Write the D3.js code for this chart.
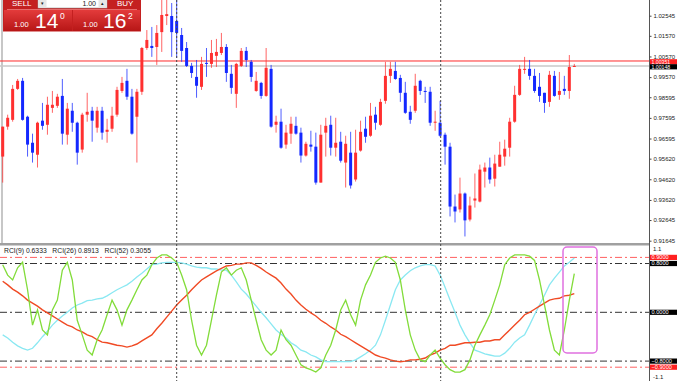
<!DOCTYPE html>
<html><head><meta charset="utf-8">
<script src="https://cdn.jsdelivr.net/npm/d3@7"></script>
<style>body{margin:0;background:#fff;overflow:hidden}svg{display:block}text{font-family:"Liberation Sans",Arial,sans-serif}</style>
</head><body><svg id="c" width="678" height="381"></svg>
<script>
// ---- candle data ----
const opens=[.9572,.9717,.9750,.9900,.9939,.9765,.9639,.9581,.9746,.9726,.9808,.9818,.9866,.9678,.9794,.9736,.9606,.9775,.9794,.9712,.9794,.9692,.9707,.9775,.9890,.9939,.9862,.9765,.9886,1.0098,1.0108,1.0103,1.0175,1.0253,1.0253,1.0229,1.0161,1.0098,1.0011,.9958,.9910,1.0026,1.0021,1.0060,1.0074,1.0103,.9973,.9876,1.0011,1.0084,1.0031,.9890,.9929,.9866,.9997,.9726,.9741,.9630,.9683,.9721,.9688,.9577,.9630,.9620,.9446,.9688,.9726,.9615,.9644,.9543,.9591,.9461,.9601,.9707,.9673,.9775,.9726,.9842,.9963,.9987,.9953,.9881,.9789,.9794,.9939,.9890,.9886,.9736,.9736,.9678,.9620,.9330,.9316,.9393,.9267,.9359,.9354,.9499,.9519,.9465,.9523,.9572,.9615,.9741,.9871,.9992,.9997,.9963,.9910,.9881,.9837,.9963,.9871,.9900,.9890,1.0006];
const highs=[.9717,.9775,.9919,.9948,.9953,.9770,.9683,.9741,.9832,.9862,.9890,.9876,.9948,.9832,.9832,.9741,.9784,.9881,.9813,.9813,.9813,.9755,.9813,.9910,.9958,.9997,.9900,.9900,1.0103,1.0185,1.0200,1.0209,1.0340,1.0340,1.0316,1.0340,1.0195,1.0127,1.0026,1.0040,1.0055,1.0098,1.0137,1.0142,1.0171,1.0117,1.0016,1.0026,1.0098,1.0103,1.0040,.9982,.9934,1.0098,1.0016,.9770,.9804,.9726,.9765,.9765,.9712,.9644,.9697,.9688,.9726,.9760,.9770,.9760,.9692,.9673,.9692,.9702,.9746,.9765,.9832,.9813,.9852,1.0031,1.0031,1.0031,.9968,.9934,.9818,.9973,.9944,.9910,.9910,.9794,.9842,.9688,.9639,.9388,.9470,.9398,.9378,.9490,.9533,.9543,.9567,.9581,.9644,.9654,.9760,.9915,1.0016,1.0055,1.0040,.9997,.9977,.9881,.9987,.9987,.9982,.9963,1.0064,1.0021];
const lows=[.9446,.9702,.9741,.9895,.9746,.9572,.9543,.9519,.9702,.9678,.9784,.9808,.9630,.9630,.9692,.9533,.9591,.9741,.9644,.9688,.9654,.9639,.9692,.9765,.9881,.9847,.9678,.9543,.9871,1.0089,1.0055,1.0016,1.0079,1.0209,1.0055,1.0050,1.0031,1.0006,.9953,.9857,.9895,.9958,1.0002,1.0006,1.0064,.9934,.9876,.9808,1.0006,1.0006,.9934,.9886,.9852,.9862,.9712,.9688,.9610,.9610,.9634,.9678,.9543,.9572,.9596,.9436,.9446,.9572,.9577,.9572,.9543,.9422,.9417,.9451,.9596,.9639,.9668,.9702,.9721,.9828,.9929,.9944,.9837,.9779,.9731,.9784,.9871,.9832,.9721,.9697,.9668,.9533,.9282,.9253,.9301,.9185,.9258,.9325,.9350,.9422,.9441,.9427,.9523,.9528,.9572,.9736,.9866,.9973,.9944,.9881,.9837,.9784,.9813,.9862,.9847,.9871,.9852,1.0006];
const closes=[.9717,.9760,.9900,.9939,.9750,.9630,.9591,.9736,.9721,.9823,.9823,.9862,.9683,.9804,.9736,.9591,.9775,.9789,.9746,.9794,.9688,.9702,.9770,.9895,.9929,.9862,.9683,.9886,1.0098,1.0137,1.0098,1.0171,1.0258,1.0262,1.0175,1.0171,1.0084,1.0011,.9977,.9915,1.0021,1.0021,1.0074,1.0079,1.0103,.9977,.9905,1.0021,1.0084,1.0040,.9958,.9939,.9866,1.0002,.9717,.9741,.9615,.9688,.9731,.9683,.9577,.9634,.9620,.9446,.9678,.9721,.9615,.9639,.9552,.9634,.9432,.9591,.9692,.9668,.9770,.9736,.9837,.9963,.9997,.9948,.9881,.9784,.9750,.9915,.9890,.9886,.9736,.9741,.9673,.9620,.9330,.9306,.9393,.9263,.9335,.9369,.9509,.9519,.9461,.9538,.9581,.9610,.9741,.9871,.9997,.9997,.9963,.9890,.9866,.9832,.9968,.9866,.9890,.9890,1.0006,1.0011];
// ---- RCI series ----
const rci9=[.78,.61,.53,.73,.82,.37,-.21,.04,-.29,-.37,.04,.20,.69,.82,.53,-.13,-.37,-.62,-.70,-.45,-.29,-.04,.20,.04,-.21,.04,.20,.37,.53,.61,.78,.89,.94,.94,.89,.82,.61,.37,-.13,-.54,-.70,-.54,-.13,.28,.66,.73,.61,.69,.73,.53,.20,-.13,-.45,-.62,-.70,-.62,-.29,-.45,-.54,-.70,-.86,-.91,-.94,-.98,-.91,-.70,-.54,-.29,.04,.20,-.04,-.21,.20,.45,.61,.82,.89,.92,.89,.82,.53,.04,-.37,-.62,-.78,-.81,-.70,-.62,-.75,-.86,-.94,-.98,-.98,-.94,-.78,-.54,-.37,-.21,-.04,.20,.45,.78,.89,.94,.94,.94,.92,.85,.53,.12,-.29,-.62,-.70,-.29,.20,.6333];
const rci26=[-.37,-.42,-.49,-.55,-.59,-.62,-.59,-.50,-.40,-.31,-.21,-.13,-.06,.00,.07,.12,.15,.19,.20,.22,.23,.27,.32,.37,.41,.45,.51,.58,.64,.71,.78,.79,.81,.82,.82,.82,.81,.79,.76,.74,.73,.73,.71,.71,.69,.69,.61,.50,.38,.30,.20,.10,.00,-.09,-.19,-.29,-.36,-.42,-.50,-.55,-.62,-.65,-.70,-.73,-.78,-.81,-.81,-.81,-.81,-.81,-.81,-.78,-.73,-.68,-.62,-.54,-.37,-.13,.12,.37,.53,.61,.68,.73,.76,.78,.78,.76,.61,.41,.20,.00,-.21,-.37,-.50,-.62,-.65,-.68,-.70,-.72,-.72,-.67,-.59,-.49,-.42,-.37,-.21,-.04,.12,.28,.45,.56,.66,.76,.82,.8913];
const rci52=[.51,.45,.38,.33,.27,.20,.15,.10,.04,-.01,-.06,-.11,-.16,-.21,-.24,-.29,-.32,-.37,-.40,-.45,-.49,-.50,-.52,-.54,-.55,-.57,-.55,-.52,-.47,-.42,-.37,-.27,-.18,-.08,.02,.12,.20,.28,.37,.45,.53,.58,.63,.68,.72,.76,.77,.79,.79,.81,.81,.77,.72,.66,.61,.56,.48,.38,.30,.20,.12,.05,-.01,-.06,-.13,-.18,-.24,-.29,-.36,-.40,-.45,-.50,-.55,-.60,-.65,-.70,-.73,-.75,-.78,-.80,-.81,-.80,-.78,-.78,-.77,-.75,-.70,-.67,-.62,-.59,-.54,-.54,-.52,-.50,-.50,-.49,-.49,-.47,-.47,-.45,-.45,-.37,-.29,-.21,-.13,-.04,.00,.05,.10,.15,.20,.22,.23,.27,.28,.3055];
// ---- axis labels ----
const priceTicks=[1.02545,1.01570,1.00570,0.99570,0.98595,0.97595,0.96595,0.95620,0.94620,0.93620,0.92645,0.91645];
const rciLevels=[0.9,0.8,0,-0.8,-0.9];
const bidPrice=1.00351, askPrice=1.00148;
const legendText="RCI(9) 0.6333   RCI(26) 0.8913   RCI(52) 0.3055";

const svg=d3.select("#c");
const R=649;
svg.append("rect").attr("width",678).attr("height",381).attr("fill","#fff");
const x=d3.scalePoint().domain(d3.range(opens.length)).range([2.7,574.3]);
const y=d3.scaleLinear().domain([0.91645,1.02545]).range([240.7,15.7]);
const yr=d3.scaleLinear().domain([-1.1,1.1]).range([379.4,245.2]);

const defs=svg.append("defs");
defs.append("clipPath").attr("id","cm").append("rect").attr("x",0).attr("y",0).attr("width",R).attr("height",243);
defs.append("clipPath").attr("id","cr").append("rect").attr("x",0).attr("y",246).attr("width",R).attr("height",135);

// main panel
const gm=svg.append("g").attr("clip-path","url(#cm)");
gm.append("line").attr("x1",2).attr("x2",2).attr("y1",0).attr("y2",243).attr("stroke","#b4b4b4").attr("stroke-width",1.5);
gm.append("line").attr("x1",0).attr("x2",R).attr("y1",y(askPrice)+0.7).attr("y2",y(askPrice)+0.7).attr("stroke","#c8c8c8").attr("stroke-width",1.5);
gm.append("line").attr("x1",0).attr("x2",R).attr("y1",y(bidPrice)).attr("y2",y(bidPrice)).attr("stroke","#ff2a2a").attr("stroke-width",1);
const up="#ff3030", dn="#1428ff";
const cd=gm.selectAll("g.c").data(opens.map((o,i)=>({i,o,h:highs[i],l:lows[i],c:closes[i]}))).join("g");
cd.append("line").attr("x1",d=>x(d.i)).attr("x2",d=>x(d.i)).attr("y1",d=>y(d.h)).attr("y2",d=>y(d.l))
  .attr("stroke",d=>d.c>=d.o?up:dn).attr("stroke-width",1).attr("stroke-opacity",0.75);
cd.append("rect").attr("x",d=>x(d.i)-1.5).attr("width",3)
  .attr("y",d=>y(Math.max(d.o,d.c))).attr("height",d=>Math.max(1,Math.abs(y(d.o)-y(d.c))))
  .attr("fill",d=>d.c>=d.o?up:dn);

// separator
svg.append("rect").attr("x",0).attr("y",243).attr("width",R).attr("height",2.5).attr("fill","#a0a0a0");

// RCI panel
const gr=svg.append("g").attr("clip-path","url(#cr)");
rciLevels.forEach((v,k)=>{
  gr.append("line").attr("x1",0).attr("x2",R).attr("y1",yr(v)).attr("y2",yr(v))
    .attr("stroke",k==0||k==4?"#ff6060":"#333").attr("stroke-width",1).attr("stroke-dasharray","7,3,2,3");
});
const line=d3.line().x((d,i)=>x(i)).y(d=>yr(d));
gr.append("path").datum(rci26).attr("d",line).attr("fill","none").attr("stroke","#8ae8f2").attr("stroke-width",1.3);
gr.append("path").datum(rci52).attr("d",line).attr("fill","none").attr("stroke","#f04a24").attr("stroke-width",1.4);
gr.append("path").datum(rci9).attr("d",line).attr("fill","none").attr("stroke","#82dc3a").attr("stroke-width",1.3);
svg.append("text").attr("x",4).attr("y",253).attr("font-size",6.8).attr("fill","#222").attr("xml:space","preserve").text(legendText);
svg.append("rect").attr("x",563).attr("y",247).attr("width",34).attr("height",106).attr("rx",4)
  .attr("fill","none").attr("stroke","#e070e0").attr("stroke-width",1.5);

// period separators
[176.7,440.7].forEach(px=>svg.append("line").attr("x1",px).attr("x2",px).attr("y1",0).attr("y2",381)
  .attr("stroke","#444").attr("stroke-dasharray","2,2").attr("stroke-width",1));

// right axes
svg.append("line").attr("x1",R+0.5).attr("x2",R+0.5).attr("y1",0).attr("y2",381).attr("stroke","#555").attr("stroke-width",1);
const ax=d3.axisRight(y).tickValues(priceTicks).tickFormat(d3.format(".5f")).tickSize(2).tickPadding(2);
const ga=svg.append("g").attr("transform",`translate(${R+0.5},0)`).call(ax);
ga.select(".domain").remove();
ga.selectAll("text").attr("font-size",6).attr("fill","#222").attr("font-family","Liberation Sans, Arial").attr("dy","0.3em");
ga.selectAll("line").attr("stroke","#444");
function box(yc,txt,fill,fs){
  svg.append("rect").attr("x",R+1).attr("y",yc-2.6).attr("width",27).attr("height",5.2).attr("fill",fill);
  svg.append("text").attr("x",R+2.5).attr("y",yc+1.9).attr("font-size",fs||5.6).attr("fill","#fff").text(txt);
}
box(y(bidPrice)+0.8,d3.format(".5f")(bidPrice),"#ff2020",5.2);
box(y(askPrice)+1.6,d3.format(".5f")(askPrice),"#000",5.2);
svg.append("text").attr("x",R+4).attr("y",251).attr("font-size",6).attr("fill","#222").text("1.1");
svg.append("text").attr("x",R+4).attr("y",379).attr("font-size",6).attr("fill","#222").text("-1.1");
rciLevels.forEach((v,k)=>box(yr(v),d3.format(".4f")(v),k==0||k==4?"#ff2020":"#000"));

// trade panel
const tp=svg.append("g");
const gd=defs.append("linearGradient").attr("id","bg").attr("x1",0).attr("x2",0).attr("y1",0).attr("y2",1);
gd.append("stop").attr("offset",0).attr("stop-color","#e33b3b");
gd.append("stop").attr("offset",1).attr("stop-color","#b71616");
tp.append("rect").attr("x",3).attr("y",0).attr("width",138).attr("height",31.5).attr("fill","#c42020");
tp.append("text").attr("x",12).attr("y",5.5).attr("font-size",8).attr("fill","#fff").text("SELL");
tp.append("text").attr("x",117).attr("y",5.5).attr("font-size",8).attr("fill","#fff").text("BUY");
tp.append("rect").attr("x",38).attr("y",-1).attr("width",69).attr("height",9).attr("fill","#fff").attr("stroke","#999").attr("stroke-width",0.6);
tp.append("rect").attr("x",38.5).attr("y",-1).attr("width",8).attr("height",8.5).attr("fill","#e6e6e6");
tp.append("rect").attr("x",98.5).attr("y",-1).attr("width",8).attr("height",8.5).attr("fill","#e6e6e6");
tp.append("text").attr("x",42.5).attr("y",5).attr("font-size",5).attr("text-anchor","middle").attr("fill","#222").text("▾");
tp.append("text").attr("x",102.5).attr("y",5).attr("font-size",5).attr("text-anchor","middle").attr("fill","#222").text("▴");
tp.append("text").attr("x",96).attr("y",6).attr("font-size",7).attr("text-anchor","end").attr("fill","#222").text("1.00");
tp.append("line").attr("x1",7).attr("x2",137).attr("y1",9.5).attr("y2",9.5).attr("stroke","#f08080").attr("stroke-width",0.8);
tp.append("rect").attr("x",4).attr("y",10).attr("width",68).attr("height",21).attr("fill","url(#bg)");
tp.append("rect").attr("x",73).attr("y",10).attr("width",67).attr("height",21).attr("fill","url(#bg)");
[[14,35,60,"14","0"],[83,103,128,"16","2"]].forEach(([a,b,c,big,sup])=>{
  tp.append("text").attr("x",a).attr("y",27).attr("font-size",7.5).attr("fill","#fff").text("1.00");
  tp.append("text").attr("x",b).attr("y",28.3).attr("font-size",21).attr("fill","#fff").text(big);
  tp.append("text").attr("x",c).attr("y",18.5).attr("font-size",8.5).attr("fill","#fff").text(sup);
});
</script></body></html>
